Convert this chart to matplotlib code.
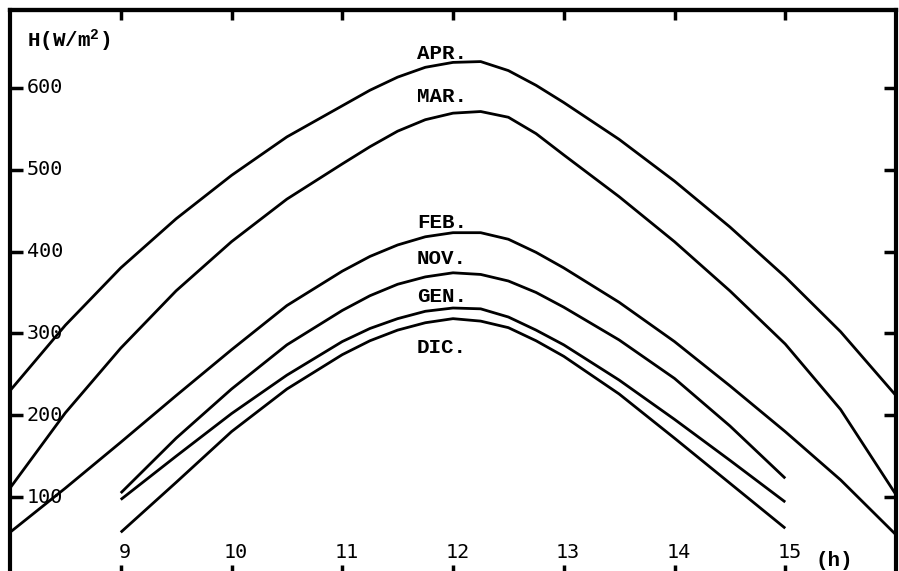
import matplotlib
matplotlib.use("Agg")
import matplotlib.pyplot as plt

# Irradiance H (W/m2) vs solar time (h); quarter-hour readings around noon
hours_full = [8, 8.5, 9, 9.5, 10, 10.5, 11, 11.25, 11.5, 11.75, 12, 12.25,
              12.5, 12.75, 13, 13.5, 14, 14.5, 15, 15.5, 16]
hours_short = [9, 9.5, 10, 10.5, 11, 11.25, 11.5, 11.75, 12, 12.25, 12.5,
               12.75, 13, 13.5, 14, 14.5, 15]

apr = [230, 310, 380, 440, 493, 540, 578, 597, 613, 625, 631, 632,
       621, 603, 582, 537, 486, 430, 369, 302, 224]
mar = [111, 203, 282, 352, 412, 464, 507, 528, 547, 561, 569, 571,
       564, 544, 518, 467, 412, 352, 287, 207, 103]
feb = [57, 111, 167, 224, 280, 334, 376, 394, 408, 418, 423, 423,
       415, 399, 380, 338, 290, 236, 180, 121, 54]
nov = [105, 172, 232, 286, 328, 346, 360, 369, 374, 372, 364, 350,
       332, 292, 245, 187, 123]
gen = [97, 150, 202, 249, 290, 306, 318, 327, 331, 330, 320, 304,
       286, 243, 195, 145, 94]
dic = [57, 118, 180, 232, 274, 291, 304, 313, 318, 315, 307, 291,
       272, 226, 172, 117, 62]

month_labels = ["APR.", "MAR.", "FEB.", "NOV.", "GEN.", "DIC."]
label_y = [642, 589, 435, 391, 345, 283]

x_ticks = [9, 10, 11, 12, 13, 14, 15]
y_ticks = [100, 200, 300, 400, 500, 600]

plt.rcParams["mathtext.default"] = "regular"

fig = plt.figure(figsize=(8.99, 5.71), dpi=100)
ax = fig.add_axes([10 / 899, -8 / 571, 886 / 899, 569 / 571])
ax.set_xlim(8, 16)
ax.set_ylim(0, 695)

lw = 2.0
for xs, ys in [(hours_full, apr), (hours_full, mar), (hours_full, feb),
               (hours_short, nov), (hours_short, gen), (hours_short, dic)]:
    ax.plot(xs, ys, color="black", lw=lw, solid_capstyle="butt", solid_joinstyle="round")

for spine in ["left", "top", "right"]:
    ax.spines[spine].set_linewidth(3)
ax.spines["bottom"].set_visible(False)

ax.set_xticks(x_ticks)
ax.set_yticks(y_ticks)
ax.set_xticklabels([])
ax.set_yticklabels([])
ax.tick_params(axis="both", which="both", direction="in", width=2.5,
               top=False, bottom=True, left=True, right=True)
ax.tick_params(axis="x", length=10)
ax.tick_params(axis="y", length=9)

# shorter ticks along the top edge
top = ax.secondary_xaxis("top")
top.set_xticks(x_ticks)
top.set_xticklabels([])
top.tick_params(direction="in", length=7, width=2.5)
top.spines["top"].set_linewidth(3)

num_font = dict(family="DejaVu Sans Mono", fontsize=14.5, color="black")
for t in y_ticks:
    ax.text(8.15, t, str(t), ha="left", va="center", **num_font)
for t in x_ticks:
    ax.text(t + 0.04, 32, str(t), ha="center", va="center", **num_font)

lab_font = dict(family="Liberation Mono", fontsize=15, fontweight="bold", color="black")
for lab, yy in zip(month_labels, label_y):
    ax.text(11.9, yy, lab, ha="center", va="center", **lab_font)

ax.text(8.15, 657, r"H(W/m$^{2}$)", ha="left", va="center", **lab_font)
ax.text(15.27, 22, "(h)", ha="left", va="center", **lab_font)

fig.savefig("out.png", dpi=100)
